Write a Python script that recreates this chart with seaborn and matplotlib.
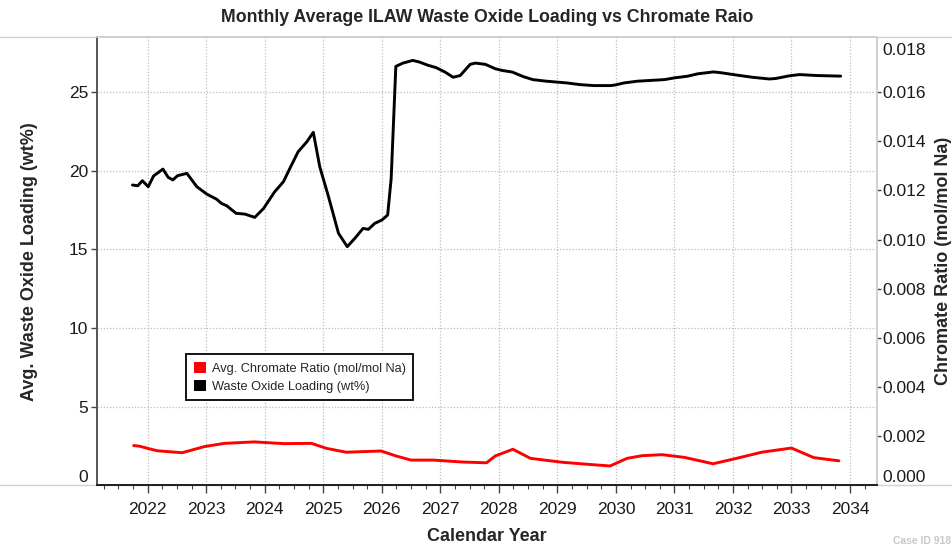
import matplotlib
matplotlib.use("Agg")
import matplotlib.pyplot as plt
import pandas as pd
import seaborn as sns
from matplotlib.lines import Line2D
from matplotlib.patches import Patch
from matplotlib.ticker import FixedLocator, FuncFormatter, MultipleLocator

# waste oxide loading (wt%)
WOL_YEARS = [
    2021.74, 2021.83, 2021.91, 2022.01, 2022.10, 2022.26, 2022.35, 2022.43, 2022.51, 2022.67,
    2022.84, 2023.01, 2023.18, 2023.26, 2023.35, 2023.51, 2023.66, 2023.83, 2023.98, 2024.17,
    2024.32, 2024.43, 2024.57, 2024.72, 2024.83, 2024.94, 2025.09, 2025.26, 2025.41, 2025.54,
    2025.68, 2025.77, 2025.88, 2026.00, 2026.10, 2026.16, 2026.24, 2026.36, 2026.53, 2026.64,
    2026.79, 2026.93, 2027.08, 2027.22, 2027.34, 2027.51, 2027.60, 2027.77, 2027.94, 2028.06,
    2028.23, 2028.41, 2028.58, 2028.81, 2029.16, 2029.39, 2029.62, 2029.91, 2029.99, 2030.14,
    2030.37, 2030.83, 2031.00, 2031.23, 2031.40, 2031.67, 2031.81, 2032.04, 2032.33, 2032.62,
    2032.73, 2032.96, 2033.14, 2033.43, 2033.84,
]
WOL_VALUES = [
    19.10, 19.05, 19.37, 18.99, 19.67, 20.11, 19.59, 19.42, 19.69, 19.84,
    18.99, 18.52, 18.19, 17.93, 17.78, 17.30, 17.25, 17.04, 17.61, 18.67,
    19.31, 20.16, 21.21, 21.85, 22.45, 20.26, 18.35, 16.03, 15.18, 15.71,
    16.34, 16.28, 16.66, 16.87, 17.19, 19.50, 26.64, 26.85, 27.02, 26.92,
    26.71, 26.56, 26.28, 25.95, 26.06, 26.77, 26.85, 26.77, 26.49, 26.38,
    26.28, 26.00, 25.80, 25.70, 25.59, 25.48, 25.42, 25.42, 25.46, 25.59,
    25.70, 25.80, 25.91, 26.02, 26.17, 26.29, 26.23, 26.10, 25.95, 25.84,
    25.87, 26.04, 26.12, 26.06, 26.02,
]

# chromate ratio (mol/mol Na)
CR_YEARS = [
    2021.76, 2021.85, 2022.16, 2022.59, 2022.97, 2023.31, 2023.82, 2024.33, 2024.80, 2025.05,
    2025.39, 2025.99, 2026.24, 2026.50, 2026.88, 2027.39, 2027.79, 2027.94, 2028.24, 2028.54,
    2029.09, 2029.51, 2029.90, 2030.19, 2030.45, 2030.79, 2031.17, 2031.66, 2032.06, 2032.49,
    2033.00, 2033.38, 2033.81,
]
CR_VALUES = [
    0.00162, 0.00160, 0.00141, 0.00133, 0.00158, 0.00171, 0.00177, 0.00170, 0.00171, 0.00151,
    0.00135, 0.00140, 0.00120, 0.00103, 0.00103, 0.00095, 0.00092, 0.00120, 0.00147, 0.00110,
    0.00094, 0.00086, 0.00079, 0.00110, 0.00121, 0.00125, 0.00114, 0.00088, 0.00110, 0.00135,
    0.00152, 0.00113, 0.00100,
]

YEAR_TICKS = list(range(2022, 2035))
WOL_TICKS = [0, 5, 10, 15, 20, 25]
CR_TICKS = [0.000, 0.002, 0.004, 0.006, 0.008, 0.010, 0.012, 0.014, 0.016, 0.018]

TITLE = "Monthly Average ILAW Waste Oxide Loading vs Chromate Raio"
WOL_LABEL = "Waste Oxide Loading (wt%)"
CR_LABEL = "Avg. Chromate Ratio (mol/mol Na)"

sns.set_theme(style="white")
plt.rcParams["font.family"] = ["Liberation Sans", "DejaVu Sans"]

wol = pd.DataFrame({"year": WOL_YEARS, "value": WOL_VALUES})
cr = pd.DataFrame({"year": CR_YEARS, "value": CR_VALUES})

W, H = 953, 547
fig = plt.figure(figsize=(W / 100, H / 100), dpi=100)
left, right, bottom, top = 96.7, 877.3, 485.4, 37.3
ax = fig.add_axes([left / W, 1 - bottom / H, (right - left) / W, (bottom - top) / H])
ax2 = ax.twinx()

# light frame lines spanning the whole width at top and bottom of the plot area
frame_grey = "#d0d0d0"
for yp in (top, bottom):
    fig.add_artist(Line2D([0, 1], [1 - yp / H, 1 - yp / H], transform=fig.transFigure,
                          color=frame_grey, lw=1.0, zorder=0))

sns.lineplot(data=wol, x="year", y="value", ax=ax, color="black", lw=2.1,
             sort=False, estimator=None, legend=False)
sns.lineplot(data=cr, x="year", y="value", ax=ax2, color="#ff0000", lw=2.1,
             sort=False, estimator=None, legend=False)

ax.set_xlim(2021.129, 2034.466)
ax.set_ylim(0, 28.49)
ax2.set_ylim(0, 28.49 * 0.016 / 25)

ax.xaxis.set_major_locator(FixedLocator(YEAR_TICKS))
ax.xaxis.set_minor_locator(MultipleLocator(0.25))
ax.xaxis.set_major_formatter(FuncFormatter(lambda v, p: f"{int(round(v))}"))
ax.yaxis.set_major_locator(FixedLocator(WOL_TICKS))
ax2.yaxis.set_major_locator(FixedLocator(CR_TICKS))
ax2.yaxis.set_major_formatter(FuncFormatter(lambda v, p: f"{v:.3f}"))

ax.grid(True, which="major", color="#bdbdbd", linestyle=(0, (1, 1.5)), lw=0.9)
ax2.grid(False)

tick_kw = dict(labelsize=12.5, labelcolor="#1a1a1a", color="#444444", direction="out")
ax.tick_params(axis="x", which="major", length=6, width=1, bottom=True, pad=6, **tick_kw)
ax.tick_params(axis="x", which="minor", length=3, width=0.8, bottom=True, color="#444444")
ax.tick_params(axis="y", which="major", length=4, width=1, left=True, pad=2, **tick_kw)
ax2.tick_params(axis="y", which="major", length=3, width=1, right=True, pad=1, **tick_kw)

for a in (ax, ax2):
    a.spines["top"].set_color(frame_grey)
    a.spines["right"].set_color(frame_grey)
    a.spines["left"].set_color("#555555")
    a.spines["bottom"].set_color("#222222")
    a.spines["bottom"].set_linewidth(1.4)
    a.spines["left"].set_linewidth(1.2)

# end labels sit inside the plot area, without a tick mark
fig.canvas.draw()
ticks_l = ax.yaxis.get_major_ticks()
ticks_l[0].label1.set_verticalalignment("bottom")
ticks_l[0].tick1line.set_visible(False)
ticks_r = ax2.yaxis.get_major_ticks()
ticks_r[0].label2.set_verticalalignment("bottom")
ticks_r[0].tick2line.set_visible(False)
ticks_r[-1].label2.set_verticalalignment("top")
ticks_r[-1].tick2line.set_visible(False)

ax.set_xlabel("Calendar Year", fontsize=13, fontweight="bold", labelpad=8)
ax.set_ylabel("Avg. Waste Oxide Loading (wt%)", fontsize=13, fontweight="bold",
              ha="center", va="center")
ax.yaxis.set_label_coords((30 - left) / (right - left), 0.5)
ax2.set_ylabel("Chromate Ratio (mol/mol Na)", fontsize=13, fontweight="bold",
               ha="center", va="center")
ax2.yaxis.set_label_coords((944 - left) / (right - left), 0.5)
fig.suptitle(TITLE, x=(left + right) / 2 / W, y=1 - 18 / H, va="center",
             fontsize=12.75, fontweight="bold")

handles = [Patch(facecolor="#ff0000", edgecolor="none", label=CR_LABEL),
           Patch(facecolor="black", edgecolor="none", label=WOL_LABEL)]
leg = ax2.legend(handles=handles, loc="upper left", bbox_to_anchor=(0.1144, 0.2932),
                 borderaxespad=0, fontsize=9.2, frameon=True, fancybox=False,
                 framealpha=1, edgecolor="black", handlelength=0.95, handleheight=0.95,
                 handletextpad=0.45, labelspacing=0.4, borderpad=0.6)
leg.get_frame().set_linewidth(1.3)

fig.text(951 / W, 1 - 541 / H, "Case ID 918", fontsize=7.5, fontweight="bold",
         color="#c8c8c8", ha="right", va="center")

fig.savefig("out.png", dpi=100)
